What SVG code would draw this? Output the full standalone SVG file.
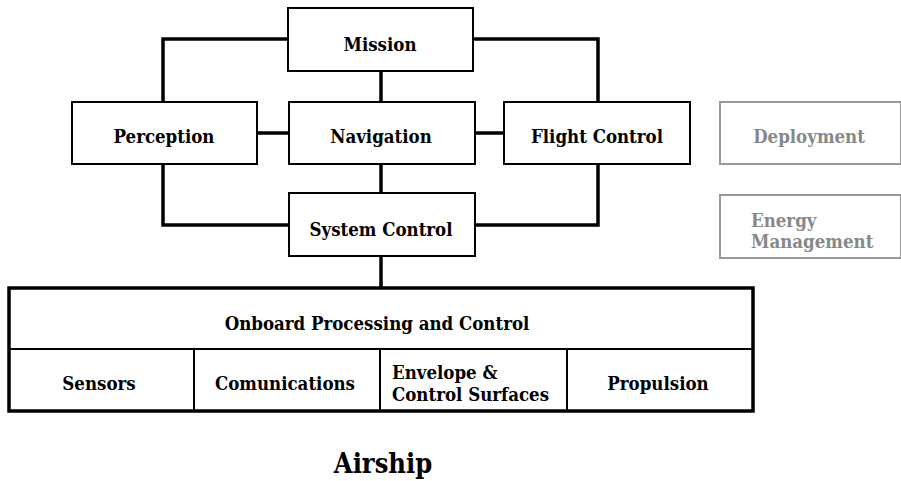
<svg xmlns="http://www.w3.org/2000/svg" width="901" height="481" viewBox="0 0 901 481">
<style>
.box{fill:#fff;stroke:#000;stroke-width:2}
.gbox{fill:#fff;stroke:#999;stroke-width:2}
text{font-family:'DejaVu Serif Condensed','DejaVu Serif',serif;font-stretch:condensed;font-weight:bold;font-size:18.5px;fill:#000;text-anchor:middle}
.g{fill:#888}
.s{text-anchor:start}
.c{fill:none;stroke:#000;stroke-width:3.5}
</style>
<rect width="901" height="481" fill="#fff"/>
<g id="connectors">
<polyline class="c" points="288,39 163,39 163,102"/>
<polyline class="c" points="473,39 598,39 598,102"/>
<line class="c" x1="381" y1="71" x2="381" y2="102"/>
<line class="c" x1="257" y1="133" x2="289" y2="133"/>
<line class="c" x1="475" y1="133" x2="504" y2="133"/>
<line class="c" x1="381" y1="164" x2="381" y2="193"/>
<polyline class="c" points="163,164 163,225 289,225"/>
<polyline class="c" points="598,164 598,225 475,225"/>
<line class="c" x1="381" y1="256" x2="381" y2="288"/>
</g>
<g id="mission"><rect class="box" x="288" y="8" width="185" height="63"/><text x="380" y="51">Mission</text></g>
<g id="perception"><rect class="box" x="72" y="102" width="185" height="62"/><text x="164" y="143">Perception</text></g>
<g id="navigation"><rect class="box" x="289" y="102" width="186" height="62"/><text x="381" y="143">Navigation</text></g>
<g id="flight-control"><rect class="box" x="504" y="102" width="186" height="62"/><text x="597" y="143">Flight Control</text></g>
<g id="deployment"><rect class="gbox" x="720" y="102" width="181" height="62"/><text class="g" x="809" y="143">Deployment</text></g>
<g id="system-control"><rect class="box" x="289" y="193" width="186" height="63"/><text x="381" y="236">System Control</text></g>
<g id="energy-management"><rect class="gbox" x="720" y="195" width="181" height="63"/><text class="g s" x="751" y="227">Energy</text><text class="g s" x="751" y="248">Management</text></g>
<g id="onboard">
<rect x="9" y="288" width="744" height="123" fill="#fff" stroke="#000" stroke-width="3.5"/>
<line x1="9" y1="349" x2="753" y2="349" stroke="#000" stroke-width="2"/>
<text x="377" y="330">Onboard Processing and Control</text>
</g>
<g id="sensors"><line x1="194" y1="349" x2="194" y2="411" stroke="#000" stroke-width="2"/><text x="99" y="390">Sensors</text></g>
<g id="comunications"><line x1="380" y1="349" x2="380" y2="411" stroke="#000" stroke-width="2"/><text x="285" y="390">Comunications</text></g>
<g id="envelope"><line x1="567" y1="349" x2="567" y2="411" stroke="#000" stroke-width="2"/><text class="s" x="392" y="379">Envelope &amp;</text><text class="s" x="392" y="401">Control Surfaces</text></g>
<g id="propulsion"><text x="658" y="390">Propulsion</text></g>
<g id="title"><text x="383" y="473" style="font-size:27px">Airship</text></g>
</svg>
